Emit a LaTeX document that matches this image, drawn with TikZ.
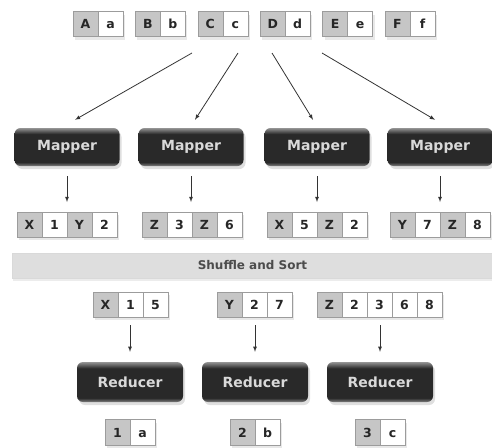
\documentclass[tikz,border=0pt]{standalone}
\usepackage{fontspec}
\setmainfont{DejaVu Sans}
\usepackage{tikz}
\usetikzlibrary{arrows,positioning,shadows}

\definecolor{keygray}{HTML}{C6C6C6}
\definecolor{cellline}{HTML}{9C9C9C}
\definecolor{barfill}{HTML}{DEDEDE}

\pgfdeclareverticalshading{workerbody}{100bp}{color(0bp)=(black!50); color(25bp)=(black!50);
    color(30bp)=(black!84); color(67bp)=(black!84); color(75bp)=(black!42); color(100bp)=(black!42)}

\tikzset{
    cell/.style={draw=cellline, minimum width=25pt, minimum height=25pt, inner sep=0pt, outer sep=0pt,
        text height=9pt, text depth=0pt,
        font=\bfseries\fontsize{12.5}{12.5}\selectfont, text=black!85,
        drop shadow={shadow xshift=2pt, shadow yshift=-3pt, opacity=.18}},
    keycell/.style={cell, fill=keygray},
    valcell/.style={cell, fill=white},
    worker/.style={rounded corners=6pt, minimum width=105pt, minimum height=38pt,
        shading=workerbody, text=white!85!black, font=\bfseries\fontsize{14}{14}\selectfont,
        drop shadow={shadow xshift=2pt, shadow yshift=-3pt, opacity=.25}},
    bar/.style={draw=black!15, fill=barfill, minimum width=480pt, minimum height=25pt,
        text=black!70, font=\bfseries\fontsize{12}{12}\selectfont,
        drop shadow={shadow xshift=0pt, shadow yshift=-3pt, opacity=.15}},
    flow/.style={->, >=latex, line width=0.8pt, black!80}
}

\begin{document}
\begin{tikzpicture}[x=1pt, y=-1pt]
    \useasboundingbox (0,0) rectangle (492,447);
    % input splits
    \foreach \k/\v [count=\i from 0] in {A/a,B/b,C/c,D/d,E/e,F/f}{
        \node[keycell] (k\v) at ({85.5+62.4*\i},24) {\k};
        \node[valcell, right=0pt of k\v] (v\v) {\v};
    }
    % mappers
    \foreach \x [count=\i] in {67,191,317,440}
        \node[worker] (map\i) at (\x,147) {Mapper};
    \foreach \s/\dx [count=\i] in {192/8,238/4,272/-4,322/-5}{
        \coordinate (src\i) at (\s,53);
        \coordinate (dst\i) at ([xshift=\dx pt, yshift=8pt]map\i.north);
        \draw[flow] (src\i) -- (dst\i);
    }
    % map output
    \foreach \x/\a/\b/\c/\d [count=\i] in {17/X/1/Y/2, 142/Z/3/Z/6, 267/X/5/Z/2, 390/Y/7/Z/8}{
        \node[keycell, anchor=west] (o\i k1) at (\x,224.5) {\a};
        \node[valcell, right=0pt of o\i k1] (o\i v1) {\b};
        \node[keycell, right=0pt of o\i v1] (o\i k2) {\c};
        \node[valcell, right=0pt of o\i k2] (o\i v2) {\d};
        \draw[flow, shorten <=10pt, shorten >=10pt] (map\i) -- (map\i |- o\i v1.north);
    }
    \node[bar] (shuffle) at (252.5,265.5) {Shuffle and Sort};
    % reducers
    \foreach \x [count=\i] in {130,255,380}
        \node[worker, minimum width=106pt, minimum height=40pt] (red\i) at (\x,382) {Reducer};
    \foreach \k/\x/\vals [count=\i] in {X/93/{1,5}, Y/217/{2,7}, Z/317/{2,3,6,8}}{
        \node[keycell, anchor=west] (g\i) at (\x,304.5) {\k};
        \foreach \v [count=\j] in \vals
            \node[valcell, anchor=west] (g\i v\j) at ([xshift={25*(\j-1)}]g\i.east) {\v};
        \draw[flow, shorten <=8pt, shorten >=10pt] (g\i.south -| red\i) -- (red\i);
    }
    % results
    \foreach \k/\v [count=\i] in {1/a,2/b,3/c}{
        \node[keycell, minimum height=26pt, anchor=east] (res\i) at ({5+125*\i},432.5) {\k};
        \node[valcell, minimum height=26pt, right=0pt of res\i] (res\i v) {\v};
    }
\end{tikzpicture}
\end{document}
